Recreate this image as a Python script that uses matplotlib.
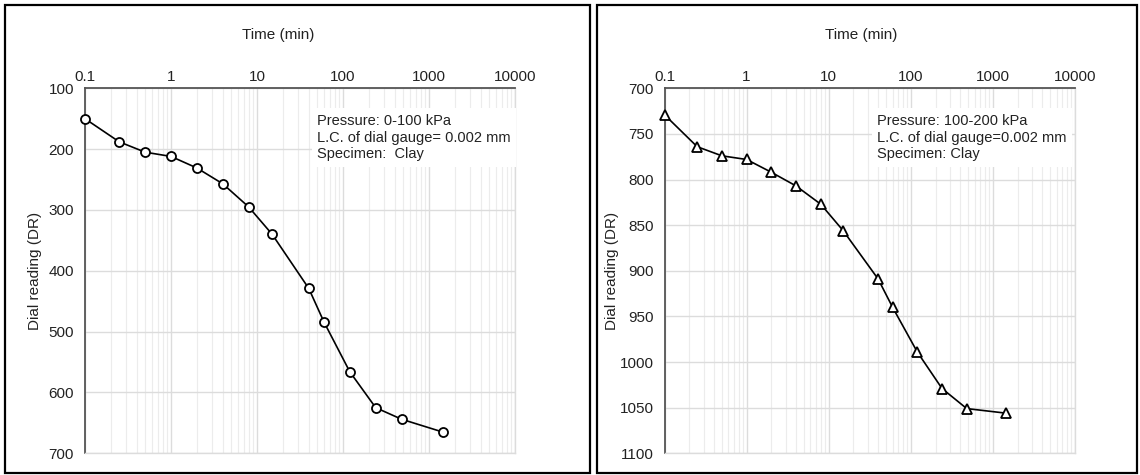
import matplotlib
matplotlib.use("Agg")
import matplotlib.pyplot as plt
from matplotlib.patches import Rectangle
from matplotlib.ticker import LogLocator, FixedLocator, NullFormatter

plt.rcParams['font.family'] = ['Liberation Sans Narrow', 'Liberation Sans', 'DejaVu Sans']

# time readings (min)
time_min = [0.1, 0.25, 0.5, 1, 2, 4, 8, 15, 40, 60, 120, 240, 480, 1440]
# dial readings, 0-100 kPa stage
dr_stage1 = [150, 188, 205, 212, 231, 257, 295, 340, 429, 484, 566, 625, 644, 665]
# dial readings, 100-200 kPa stage
dr_stage2 = [729, 764, 774, 778, 792, 807, 827, 856, 909, 940, 989, 1029, 1051, 1056]

xticks = [0.1, 1, 10, 100, 1000, 10000]
xticklabels = ['0.1', '1', '10', '100', '1000', '10000']
y1_ticks = [100, 200, 300, 400, 500, 600, 700]
y2_ticks = [700, 750, 800, 850, 900, 950, 1000, 1050, 1100]

notes1 = "Pressure: 0-100 kPa\nL.C. of dial gauge= 0.002 mm\nSpecimen:  Clay"
notes2 = "Pressure: 100-200 kPa\nL.C. of dial gauge=0.002 mm\nSpecimen: Clay"

fig = plt.figure(figsize=(11.4, 4.75), dpi=100)

# panel frames (pixels -> figure fraction)
W, H = 1140.0, 475.0
for x0, x1 in [(5, 590), (597, 1137)]:
    fig.patches.append(Rectangle((x0 / W, 1 - 473 / H), (x1 - x0) / W, 468 / H,
                                 transform=fig.transFigure, fill=False,
                                 edgecolor='black', linewidth=1.6))


def setup_axes(ax, yticks, marker, ydata, note, note_x, xlab_x, ylab_x):
    ax.plot(time_min, ydata, color='black', linewidth=1.2, marker=marker,
            markersize=6.5 if marker == 'o' else 7, markerfacecolor='white',
            markeredgecolor='black', markeredgewidth=1.3, zorder=5, clip_on=False)
    ax.set_xscale('log')
    ax.set_xlim(0.1, 10000)
    ax.set_ylim(yticks[-1], yticks[0])
    ax.xaxis.set_major_locator(FixedLocator(xticks))
    ax.set_xticklabels(xticklabels)
    ax.xaxis.set_minor_locator(LogLocator(base=10, subs=range(2, 10), numticks=20))
    ax.xaxis.set_minor_formatter(NullFormatter())
    ax.set_yticks(yticks)
    ax.xaxis.tick_top()
    ax.xaxis.set_label_position('top')
    ax.tick_params(axis='both', which='both', length=0, labelsize=11, colors='#222222')
    ax.tick_params(axis='x', pad=3)
    ax.tick_params(axis='y', pad=8)
    ax.grid(True, which='major', color='#dcdcdc', linewidth=1.0)
    ax.grid(True, which='minor', axis='x', color='#ececec', linewidth=0.8)
    ax.set_axisbelow(True)
    for s in ['left', 'top']:
        ax.spines[s].set_color('#555555')
        ax.spines[s].set_linewidth(1.3)
    for s in ['bottom', 'right']:
        ax.spines[s].set_color('#dcdcdc')
        ax.spines[s].set_linewidth(1.0)
    ax.set_xlabel('Time (min)', fontsize=11, color='#222222')
    ax.xaxis.set_label_coords(xlab_x, 1.135)
    ax.set_ylabel('Dial reading (DR)', fontsize=11, color='#222222')
    ax.yaxis.set_label_coords(ylab_x, 0.5)
    ax.text(note_x, 0.93, note, transform=ax.transAxes, fontsize=10.5,
            va='top', ha='left', linespacing=1.25, color='#222222',
            bbox=dict(facecolor='white', edgecolor='none', pad=4), zorder=3)


ax1 = fig.add_axes([85 / W, 1 - 453.3 / H, 430 / W, 365 / H])
setup_axes(ax1, y1_ticks, 'o', dr_stage1, notes1, 0.54, 0.45, -0.10)

ax2 = fig.add_axes([664.5 / W, 1 - 453.3 / H, 410.5 / W, 365 / H])
setup_axes(ax2, y2_ticks, '^', dr_stage2, notes2, 0.518, 0.48, -0.11)

fig.savefig('out.png', dpi=100)
